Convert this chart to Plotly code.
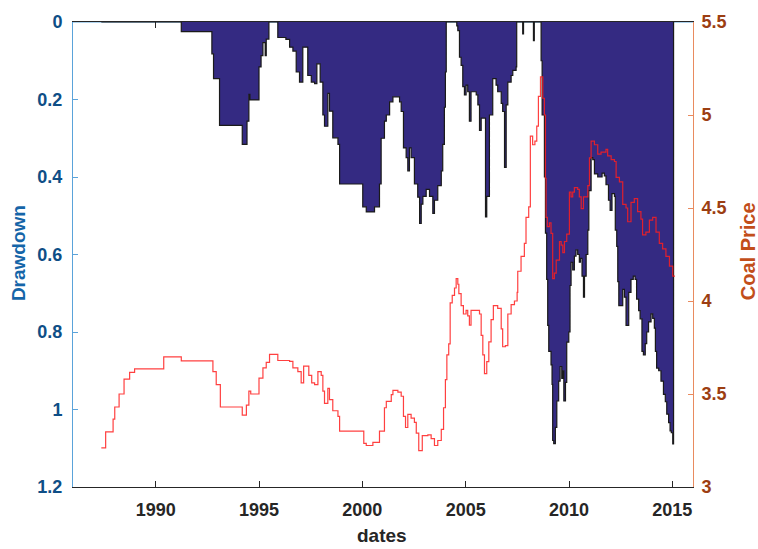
import plotly.graph_objects as go

# ---- Drawdown series (year, drawdown) ----
dd_years = [1987.37, 1991.24, 1992.72, 1992.80, 1993.09, 1994.19, 1994.42, 1994.51, 1994.56, 1995.00,
            1995.10, 1995.19, 1995.30, 1995.35, 1995.48, 1995.91, 1996.30, 1996.48, 1996.64, 1996.80,
            1996.96, 1997.12, 1997.36, 1997.53, 1997.69, 1997.80, 1997.96, 1998.09, 1998.17, 1998.33,
            1998.41, 1998.57, 1998.82, 1998.90, 2000.02, 2000.19, 2000.59, 2000.83, 2000.91, 2001.07,
            2001.16, 2001.32, 2001.48, 2001.80, 2001.88, 2001.99, 2002.12, 2002.20, 2002.28, 2002.36,
            2002.52, 2002.68, 2002.77, 2002.85, 2002.93, 2003.09, 2003.25, 2003.41, 2003.49, 2003.65,
            2003.82, 2003.89, 2003.97, 2004.02, 2004.06, 2004.57, 2004.62, 2004.70, 2004.78, 2004.86,
            2004.94, 2005.02, 2005.10, 2005.18, 2005.26, 2005.51, 2005.59, 2005.67, 2005.75, 2005.96,
            2006.02, 2006.15, 2006.31, 2006.47, 2006.55, 2006.72, 2006.79, 2006.88, 2006.96, 2007.04,
            2007.20, 2007.28, 2007.44, 2007.47, 2007.76, 2007.80, 2008.28, 2008.32, 2008.65, 2008.70,
            2008.81, 2008.86, 2008.92, 2008.97, 2009.02, 2009.13, 2009.18, 2009.21, 2009.26, 2009.34,
            2009.41, 2009.50, 2009.57, 2009.65, 2009.70, 2009.75, 2009.83, 2009.89, 2009.99, 2010.05,
            2010.10, 2010.18, 2010.26, 2010.34, 2010.42, 2010.50, 2010.55, 2010.63, 2010.70, 2010.75,
            2010.83, 2010.91, 2010.96, 2011.07, 2011.15, 2011.23, 2011.39, 2011.55, 2011.60, 2011.71,
            2011.79, 2011.91, 2011.99, 2012.08, 2012.20, 2012.24, 2012.31, 2012.36, 2012.41, 2012.60,
            2012.68, 2012.76, 2012.89, 2013.00, 2013.11, 2013.20, 2013.27, 2013.37, 2013.44, 2013.53,
            2013.60, 2013.69, 2013.76, 2013.85, 2013.97, 2014.05, 2014.13, 2014.18, 2014.24, 2014.34,
            2014.45, 2014.57, 2014.66, 2014.73, 2014.82, 2014.89, 2014.95, 2015.02, 2015.06]
dd_values = [0.0, 0.025, 0.082, 0.146, 0.267, 0.316, 0.256, 0.187, 0.201, 0.116,
             0.087, 0.053, 0.087, 0.044, 0.0, 0.04, 0.045, 0.065, 0.075, 0.129,
             0.155, 0.065, 0.138, 0.155, 0.159, 0.108, 0.155, 0.24, 0.269, 0.184,
             0.23, 0.299, 0.316, 0.418, 0.477, 0.49, 0.477, 0.418, 0.30, 0.256,
             0.24, 0.206, 0.193, 0.206, 0.231, 0.325, 0.35, 0.384, 0.325, 0.35,
             0.418, 0.452, 0.52, 0.47, 0.45, 0.432, 0.45, 0.494, 0.46, 0.422,
             0.384, 0.316, 0.22, 0.129, 0.0, 0.01, 0.022, 0.091, 0.112, 0.167,
             0.188, 0.163, 0.18, 0.256, 0.18, 0.188, 0.214, 0.28, 0.248, 0.503,
             0.45, 0.24, 0.146, 0.163, 0.18, 0.21, 0.231, 0.375, 0.214, 0.155,
             0.138, 0.125, 0.116, 0.0, 0.031, 0.0, 0.048, 0.0, 0.1, 0.24,
             0.40, 0.545, 0.664, 0.783, 0.85, 0.885, 0.935, 1.08, 1.088, 1.046,
             0.978, 0.927, 0.889, 0.92, 0.90, 0.978, 0.93, 0.826, 0.80, 0.68,
             0.62, 0.64, 0.604, 0.588, 0.60, 0.62, 0.61, 0.656, 0.71, 0.656,
             0.60, 0.537, 0.435, 0.35, 0.355, 0.392, 0.40, 0.40, 0.39, 0.397,
             0.42, 0.46, 0.486, 0.443, 0.45, 0.537, 0.579, 0.67, 0.732, 0.69,
             0.71, 0.783, 0.698, 0.664, 0.656, 0.664, 0.715, 0.745, 0.766, 0.85,
             0.859, 0.83, 0.80, 0.774, 0.753, 0.765, 0.79, 0.85, 0.893, 0.90,
             0.927, 0.961, 0.98, 1.012, 1.034, 1.055, 1.06, 1.089, 0.0]

# ---- Coal price series (year, log price) ----
cp_years = [1987.37, 1987.58, 1987.94, 1988.02, 1988.23, 1988.47, 1988.74, 1988.98, 1990.39, 1991.24,
            1992.77, 1992.93, 1993.13, 1994.19, 1994.39, 1994.51, 1994.60, 1995.00, 1995.19, 1995.35,
            1995.51, 1995.91, 1996.48, 1996.64, 1996.88, 1997.04, 1997.16, 1997.41, 1997.55, 1997.69,
            1997.85, 1998.01, 1998.09, 1998.17, 1998.33, 1998.41, 1998.57, 1998.82, 1998.90, 2000.07,
            2000.19, 2000.51, 2000.83, 2001.07, 2001.16, 2001.40, 2001.48, 2001.72, 2001.88, 2001.99,
            2002.09, 2002.20, 2002.36, 2002.52, 2002.61, 2002.73, 2002.90, 2003.17, 2003.33, 2003.49,
            2003.65, 2003.82, 2003.93, 2004.02, 2004.09, 2004.18, 2004.25, 2004.35, 2004.46, 2004.54,
            2004.62, 2004.67, 2004.78, 2004.89, 2005.02, 2005.10, 2005.18, 2005.26, 2005.51, 2005.67,
            2005.75, 2005.83, 2005.91, 2006.02, 2006.12, 2006.23, 2006.34, 2006.55, 2006.72, 2006.79,
            2006.92, 2007.04, 2007.20, 2007.36, 2007.49, 2007.52, 2007.68, 2007.84, 2007.92, 2008.05,
            2008.13, 2008.24, 2008.35, 2008.44, 2008.52, 2008.62, 2008.73, 2008.81, 2008.86, 2008.89,
            2008.95, 2009.05, 2009.13, 2009.21, 2009.29, 2009.38, 2009.54, 2009.62, 2009.70, 2009.78,
            2009.89, 2010.02, 2010.10, 2010.18, 2010.26, 2010.42, 2010.50, 2010.59, 2010.70, 2010.83,
            2010.91, 2010.99, 2011.07, 2011.23, 2011.39, 2011.55, 2011.79, 2011.87, 2012.04, 2012.20,
            2012.28, 2012.44, 2012.60, 2012.76, 2012.84, 2013.00, 2013.16, 2013.32, 2013.48, 2013.56,
            2013.72, 2013.89, 2014.05, 2014.21, 2014.37, 2014.53, 2014.69, 2014.86, 2015.02, 2015.10]
cp_values = [3.21, 3.296, 3.365, 3.43, 3.50, 3.58, 3.616, 3.635, 3.70, 3.678,
             3.62, 3.55, 3.43, 3.386, 3.44, 3.515, 3.50, 3.585, 3.64, 3.67,
             3.713, 3.68, 3.675, 3.64, 3.62, 3.56, 3.65, 3.60, 3.56, 3.55,
             3.62, 3.60, 3.515, 3.45, 3.53, 3.47, 3.41, 3.38, 3.30, 3.235,
             3.223, 3.24, 3.30, 3.426, 3.46, 3.497, 3.52, 3.51, 3.488, 3.38,
             3.32, 3.39, 3.37, 3.347, 3.29, 3.196, 3.276, 3.28, 3.26, 3.223,
             3.25, 3.31, 3.426, 3.577, 3.71, 3.77, 3.99, 4.03, 4.07, 4.12,
             4.09, 4.04, 3.975, 3.93, 3.95, 3.92, 3.87, 3.95, 3.95, 3.93,
             3.815, 3.71, 3.61, 3.674, 3.78, 3.90, 3.975, 3.96, 3.85, 3.754,
             3.76, 3.93, 3.98, 4.0, 4.046, 4.16, 4.24, 4.31, 4.45, 4.506,
             4.886, 4.84, 4.86, 4.94, 5.10, 5.205, 5.09, 5.0, 4.66, 4.45,
             4.40, 4.42, 4.364, 4.12, 4.15, 4.22, 4.32, 4.30, 4.26, 4.32,
             4.36, 4.585, 4.56, 4.585, 4.61, 4.60, 4.56, 4.497, 4.56, 4.56,
             4.62, 4.77, 4.86, 4.84, 4.79, 4.80, 4.815, 4.78, 4.76, 4.75,
             4.665, 4.64, 4.52, 4.50, 4.426, 4.53, 4.55, 4.48, 4.44, 4.355,
             4.37, 4.435, 4.45, 4.37, 4.31, 4.28, 4.24, 4.187, 4.134, 4.13]

x_ticks = [1990, 1995, 2000, 2005, 2010, 2015]
dd_ticks = [0, 0.2, 0.4, 0.6, 0.8, 1.0, 1.2]
dd_ticklabels = ["0", "0.2", "0.4", "0.6", "0.8", "1", "1.2"]
cp_ticks = [3, 3.5, 4, 4.5, 5, 5.5]
cp_ticklabels = ["3", "3.5", "4", "4.5", "5", "5.5"]

FONT = "Liberation Sans, Arial, sans-serif"
LEFT_LINE = "#5AA3DA"
LEFT_TEXT = "#0E4E86"
RIGHT_LINE = "#E98B5F"
RIGHT_TEXT = "#9C3E12"

fig = go.Figure()
fig.add_trace(go.Scatter(
    x=dd_years, y=dd_values, mode="lines", line=dict(shape="hv", color="#1a1a1a", width=1.2),
    fill="tozeroy", fillcolor="#342A82", yaxis="y", showlegend=False, hoverinfo="skip"))
fig.add_trace(go.Scatter(
    x=cp_years, y=cp_values, mode="lines", line=dict(shape="hv", color="rgba(255,30,30,0.85)", width=1.2),
    yaxis="y2", showlegend=False, hoverinfo="skip"))

fig.update_layout(
    width=758, height=549,
    margin=dict(l=73, r=65, t=16, b=62),
    paper_bgcolor="white", plot_bgcolor="white",
    font=dict(family=FONT, size=18, color="#262626", weight="bold"),
    xaxis=dict(range=[1986, 2016], tickvals=x_ticks, ticks="inside", ticklen=6, tickcolor="#262626",
               showline=True, linecolor="#262626", linewidth=1, mirror="ticks", showgrid=False,
               zeroline=False, layer="below traces", ticklabelstandoff=6,
               tickfont=dict(family=FONT, size=18, color="#262626", weight="bold")),
    yaxis=dict(range=[1.2, 0], tickvals=dd_ticks, ticktext=dd_ticklabels, ticks="inside", ticklen=5,
               tickcolor=LEFT_LINE, showline=True, linecolor=LEFT_LINE, linewidth=1, showgrid=False,
               zeroline=False, ticklabelstandoff=6,
               tickfont=dict(family=FONT, size=18, color=LEFT_TEXT, weight="bold")),
    yaxis2=dict(range=[3, 5.5], tickvals=cp_ticks, ticktext=cp_ticklabels, ticks="inside", ticklen=5,
                tickcolor=RIGHT_LINE, showline=True, linecolor=RIGHT_LINE, linewidth=1, showgrid=False,
                zeroline=False, overlaying="y", side="right", anchor="x", ticklabelstandoff=4,
                tickfont=dict(family=FONT, size=18, color=RIGHT_TEXT, weight="bold")),
    shapes=[dict(type="line", xref="paper", yref="paper", x0=0, x1=1, y0=1, y1=1,
                 line=dict(color=LEFT_LINE, width=1), layer="below")],
    annotations=[
        dict(text="Drawdown", xref="paper", yref="paper", x=0, y=0.503, xshift=-55, textangle=-90,
             showarrow=False, xanchor="center", yanchor="middle",
             font=dict(family=FONT, size=19, color="#1565A8", weight="bold")),
        dict(text="Coal Price", xref="paper", yref="paper", x=1, y=0.507, xshift=55, textangle=-90,
             showarrow=False, xanchor="center", yanchor="middle",
             font=dict(family=FONT, size=20, color="#C24E1A", weight="bold")),
        dict(text="dates", xref="paper", yref="paper", x=0.498, y=0, yshift=-48,
             showarrow=False, xanchor="center", yanchor="middle",
             font=dict(family=FONT, size=19, color="#262626", weight="bold")),
    ],
)

fig.write_html("out.html")
